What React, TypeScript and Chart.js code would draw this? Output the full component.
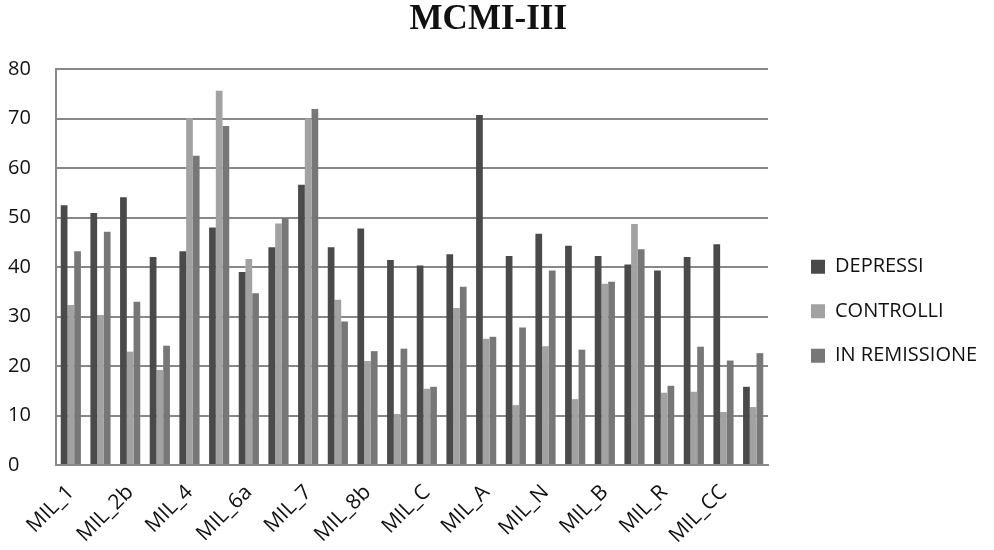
import React, { useEffect, useRef } from "react";
import { Chart, registerables } from "chart.js";

Chart.register(...registerables);

const categories = [
  "MIL_1", "MIL_2a", "MIL_2b", "MIL_3", "MIL_4", "MIL_5", "MIL_6a", "MIL_6b",
  "MIL_7", "MIL_8a", "MIL_8b", "MIL_S", "MIL_C", "MIL_P", "MIL_A", "MIL_H",
  "MIL_N", "MIL_D", "MIL_B", "MIL_T", "MIL_R", "MIL_SS", "MIL_CC", "MIL_PP",
];
const depressi = [52.5, 50.9, 54.1, 42, 43.2, 48, 39, 44, 56.6, 44, 47.8, 41.4, 40.3, 42.6, 70.7, 42.2, 46.7, 44.3, 42.2, 40.5, 39.3, 42, 44.6, 15.8];
const controlli = [32.3, 30.3, 22.9, 19.2, 70.1, 75.6, 41.6, 48.8, 70, 33.4, 21, 10.3, 15.4, 31.7, 25.5, 12.1, 24, 13.3, 36.6, 48.7, 14.6, 14.8, 10.7, 11.7];
const inRemissione = [43.2, 47.1, 33, 24.1, 62.5, 68.5, 34.7, 49.9, 71.9, 29, 23, 23.5, 15.8, 36, 25.9, 27.8, 39.3, 23.3, 37, 43.6, 16, 23.9, 21.1, 22.6];
const seriesNames = ["DEPRESSI", "CONTROLLI", "IN REMISSIONE"];
const yTicks = [0, 10, 20, 30, 40, 50, 60, 70, 80];

const FONT = "'Open Sans', sans-serif";
const LEGEND_SIZE = 20;
const LEGEND_PAD = 24.5;
const LEGEND_BOX = 14;
const LEGEND_GAP = 18.5;
const PLOT_RIGHT = 768;

export default function App() {
  const ref = useRef<HTMLCanvasElement>(null);
  useEffect(() => {
    if (!ref.current) return;
    const ctx = ref.current.getContext("2d")!;
    ctx.font = `${LEGEND_SIZE}px ${FONT}`;
    const textW = Math.max(...seriesNames.map((s) => ctx.measureText(s).width));
    const legendW = LEGEND_PAD + LEGEND_BOX + LEGEND_SIZE / 2 + textW + 10;
    const rightPad = Math.max(0, 994 - PLOT_RIGHT - legendW);

    const shiftLegend = {
      id: "shiftLegend",
      beforeDraw(chart: any) {
        const lg = chart.legend;
        if (!lg) return;
        lg.left = chart.chartArea.right + LEGEND_GAP;
        lg.right = lg.left + lg.width;
      },
    };

    const chart = new Chart(ref.current, {
      type: "bar",
      data: {
        labels: categories,
        datasets: [
          { label: seriesNames[0], data: depressi, backgroundColor: "#4a4a4a" },
          { label: seriesNames[1], data: controlli, backgroundColor: "#a2a2a2" },
          { label: seriesNames[2], data: inRemissione, backgroundColor: "#777777" },
        ],
      },
      plugins: [shiftLegend],
      options: {
        animation: false,
        responsive: true,
        maintainAspectRatio: false,
        datasets: { bar: { categoryPercentage: 0.68, barPercentage: 1.0 } },
        layout: { padding: { left: 8, right: rightPad, top: 0, bottom: 0 } },
        plugins: {
          title: {
            display: true,
            text: "MCMI-III",
            font: { family: "'Liberation Serif', serif", size: 35, weight: "bold" },
            color: "#111",
            padding: { top: -1, bottom: 28 },
          },
          legend: {
            position: "right",
            title: { display: true, text: " ", font: { size: 12 }, padding: { top: 58, bottom: 0 } },
            labels: {
              font: { family: FONT, size: LEGEND_SIZE },
              color: "#111",
              boxWidth: LEGEND_BOX,
              boxHeight: LEGEND_BOX,
              padding: LEGEND_PAD,
            },
          },
          tooltip: { enabled: false },
        },
        scales: {
          x: {
            grid: { display: false, drawTicks: false },
            border: { display: true, color: "#888", width: 2 },
            ticks: {
              autoSkip: false,
              maxRotation: 45,
              minRotation: 45,
              color: "#111",
              font: { family: FONT, size: 21 },
              padding: 15,
              callback: (_v: any, i: number) => (i % 2 === 0 ? categories[i] : ""),
            },
            afterFit: (s: any) => {
              s.paddingLeft = 0;
              s.paddingRight = 0;
              s.height = 85;
            },
          },
          y: {
            min: 0,
            max: 80,
            afterBuildTicks: (axis: any) => {
              axis.ticks = yTicks.map((v) => ({ value: v }));
            },
            grid: { color: "#888", lineWidth: 2, drawTicks: false },
            border: { display: true, color: "#888", width: 2 },
            ticks: {
              color: "#111",
              font: { family: FONT, size: 20 },
              padding: 24,
              crossAlign: "far",
            },
            afterFit: (s: any) => {
              s.width = 48;
            },
          },
        },
      },
    });
    return () => chart.destroy();
  }, []);
  return (
    <div style={{ position: "fixed", left: 0, top: 0, width: 994, height: 550, background: "#fff" }}>
      <canvas ref={ref} />
    </div>
  );
}
